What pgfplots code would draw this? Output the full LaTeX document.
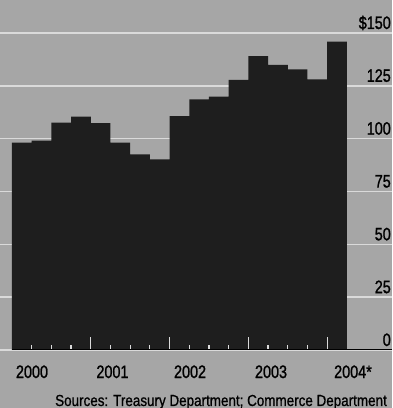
\documentclass[border=0pt]{standalone}
\usepackage{fontspec}
\setmainfont{Liberation Sans}
\newfontfamily\condfont[FakeStretch=0.8,FakeBold=1.2]{Liberation Sans}
\newfontfamily\srcfont[FakeStretch=0.84,FakeBold=0.8]{Liberation Sans}
\usepackage{pgfplots}
\pgfplotsset{compat=1.18}
\definecolor{bg}{HTML}{A6A6A6}
\definecolor{barc}{HTML}{1E1E1E}
\definecolor{gridc}{HTML}{DADADA}
\begin{document}
\begin{tikzpicture}
\useasboundingbox (0,0) rectangle (392pt,408pt);
\clip (0,0) rectangle (392pt,408pt);
\fill[bg] (0,0) rectangle (392pt,408pt);
\begin{axis}[
  scale only axis, width=392pt, height=350pt,
  at={(0pt,58pt)}, anchor=south west,
  xmin=-0.109, xmax=19.79, ymin=0, ymax=165.6,
  axis line style={draw=none},
  tick style={draw=none},
  ytick={0,25,50,75,100,125,150},
  yticklabels={0,25,50,75,100,125,\$150},
  yticklabel pos=right,
  yticklabel style={anchor=base east, inner sep=0pt, xshift=-1pt, yshift=4pt, text=black, font=\condfont\fontsize{18}{20}\selectfont},
  ymajorgrids, major grid style={gridc, line width=1.6pt},
  xtick={1.515,5.60,9.54,13.65,17.81},
  xticklabels={2000,2001,2002,2003,2004*},
  xticklabel style={anchor=base, inner sep=0pt, yshift=-28pt, text=black, font=\condfont\fontsize{18}{20}\selectfont},
  xtick pos=bottom,
]
\addplot[ybar interval, fill=barc, draw=none] coordinates {
  (0.5,98.1) (1.5,99.1) (2.5,107.6) (3.5,110.4) (4.5,107.3) (5.5,98.1)
  (6.5,92.6) (7.5,90.2) (8.5,110.7) (9.5,118.6) (10.5,119.9) (11.5,127.8)
  (12.5,139.1) (13.5,134.9) (14.5,132.8) (15.5,128.1) (16.5,145.9) (17.5,145.9)
};
\addplot[ycomb, gridc, line width=1.2pt, mark=none] coordinates {
  (1.5,2.4) (2.5,2.4) (3.5,2.4) (4.5,6.2) (5.5,2.4) (6.5,2.4) (7.5,2.4) (8.5,6.2)
  (9.5,2.4) (10.5,2.4) (11.5,2.4) (12.5,6.2) (13.5,2.4) (14.5,2.4) (15.5,2.4) (16.5,6.2)
};
\draw[black, line width=1.6pt] (axis cs:0.5,0) -- (axis cs:19.79,0);
\end{axis}
\node[anchor=base west, inner sep=0pt, font=\srcfont\fontsize{16}{18}\selectfont] at (55pt,2pt) {Sources: Treasury Department; Commerce Department};
\end{tikzpicture}
\end{document}
